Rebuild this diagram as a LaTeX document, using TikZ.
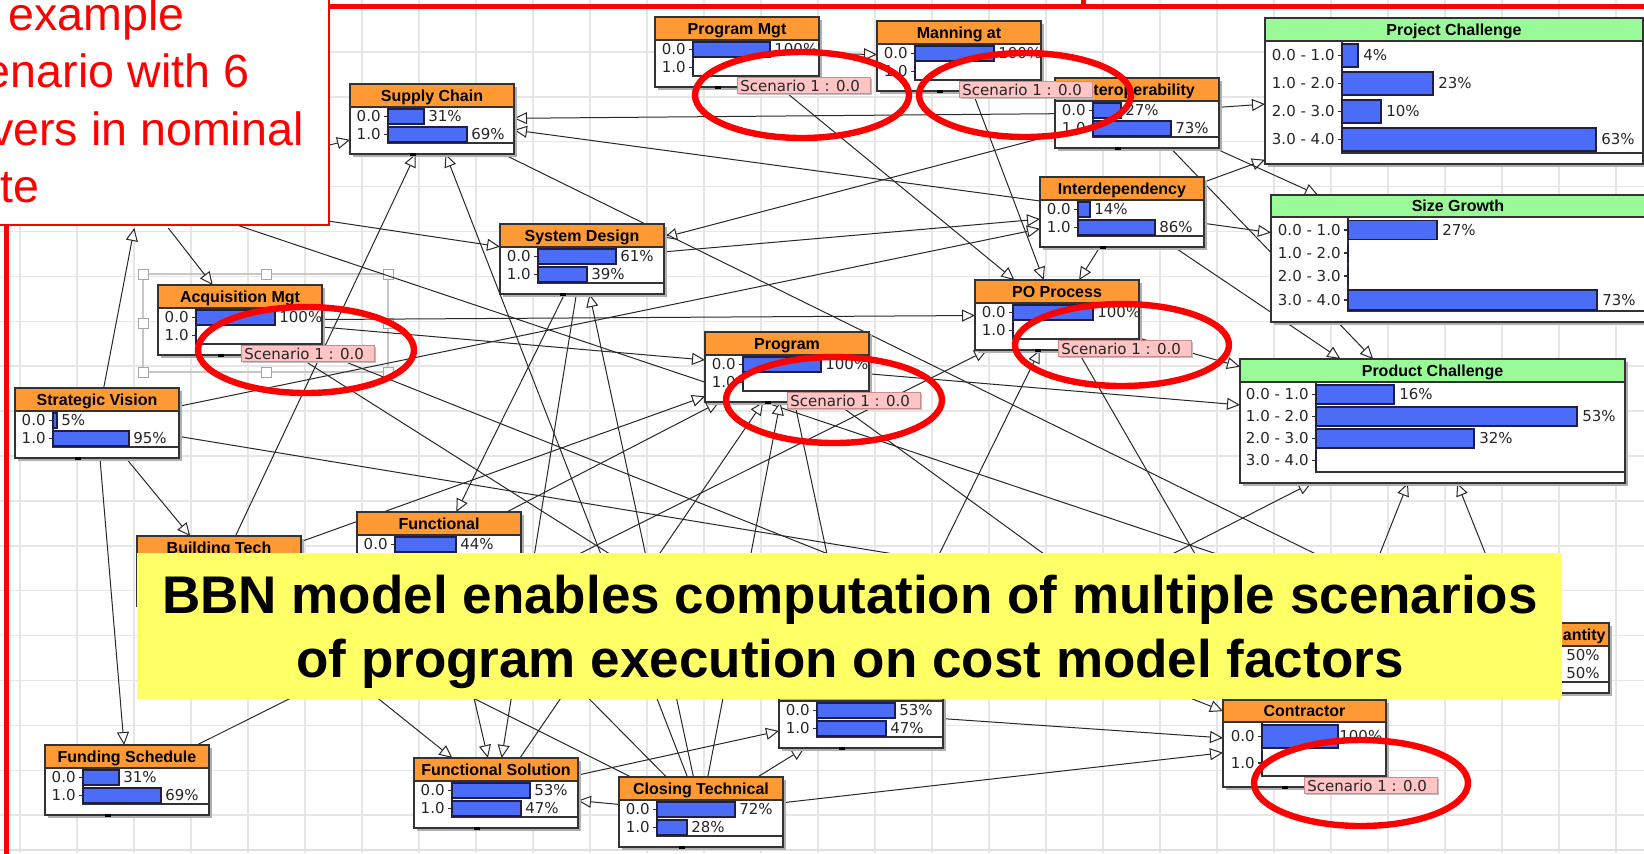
\documentclass[tikz,border=0pt]{standalone}
\usepackage{fontspec}
\setmainfont{Liberation Sans}
\newfontfamily\dv{DejaVu Sans}
\usetikzlibrary{arrows.meta}
\definecolor{orangeT}{RGB}{255,153,51}
\definecolor{greenT}{RGB}{152,251,152}
\definecolor{barblue}{RGB}{74,108,247}
\definecolor{bardark}{RGB}{30,30,70}
\definecolor{gridc}{RGB}{230,230,230}
\definecolor{edgec}{RGB}{40,40,40}
\definecolor{pinkL}{RGB}{255,196,196}
\definecolor{pinkB}{RGB}{200,140,140}
\definecolor{yel}{RGB}{255,255,102}
\definecolor{shadowc}{RGB}{175,175,175}
\tikzset{
 hid/.style={draw=none, inner sep=0, outer sep=0, minimum width=82pt, minimum height=35pt, anchor=north west},
 boxline/.style={draw=black!80, line width=0.75pt},
 axisline/.style={draw=black!80, line width=0.6pt},
 edge/.style={draw=edgec, line width=0.5pt, -{Triangle[length=6.5pt,width=6pt,fill=white]}},
 ttl/.style={font=\bfseries\fontsize{8}{9}\selectfont, inner sep=0},
 val/.style={font=\dv\fontsize{7.5}{9}\selectfont, inner sep=0, text=black!85},
 bar/.style={fill=barblue, draw=bardark, line width=0.6pt},
 scen/.style={fill=pinkL, draw=pinkB, line width=0.5pt},
 ring/.style={draw=red, line width=3.2pt},
 redtext/.style={anchor=base west, text=red, font=\fontsize{23.3}{28}\selectfont, inner sep=0},
 banner/.style={anchor=base, font=\bfseries\fontsize{26.5}{32}\selectfont, inner sep=0},
}
% frame of an orange two-state node: left, top, title, name
\newcommand{\bframe}[4]{%
 \fill[shadowc] (#1+3,#2+3) rectangle (#1+167,#2+73);
 \fill[white] (#1,#2) rectangle (#1+164,#2+70);
 \fill[orangeT] (#1,#2) rectangle (#1+164,#2+23);
 \node[ttl, anchor=base] (#4-t) at (#1+82,#2+17) {#3};
}
\newcommand{\bclose}[2]{%
 \draw[boxline] (#1,#2+23) -- (#1+164,#2+23);
 \draw[boxline] (#1,#2) rectangle (#1+164,#2+70);
 \fill[black] (#1+60,#2+69) rectangle (#1+66,#2+72);
}
% two-state orange node: name, left, top, title, len1, pct1, len2, pct2
\newcommand{\bn}[8]{%
 \bframe{#2}{#3}{#4}{#1}
 \draw[axisline] (#2+38,#3+23) -- (#2+38,#3+59) -- (#2+164,#3+59);
 \draw[axisline] (#2+34,#3+32.5) -- (#2+38,#3+32.5) (#2+34,#3+50.5) -- (#2+38,#3+50.5);
 \node[val, anchor=east] (#1-a) at (#2+31,#3+32.5) {0.0};
 \node[val, anchor=east] (#1-b) at (#2+31,#3+50.5) {1.0};
 \path[bar] (#2+38,#3+25) rectangle (#2+38+#5,#3+40);
 \path[bar] (#2+38,#3+43) rectangle (#2+38+#7,#3+58);
 \node[val, anchor=west] (#1-p) at (#2+42+#5,#3+32.5) {#6};
 \node[val, anchor=west] (#1-q) at (#2+42+#7,#3+50.5) {#8};
 \bclose{#2}{#3}
}
% row of a multi-state node: bar-left, centre y, half height, label, length, pct, name
\newcommand{\mrow}[7]{%
 \draw[axisline] (#1-4,#2) -- (#1,#2);
 \node[val, anchor=east] (#7-l) at (#1-7,#2) {#4};
 \path[bar] (#1,#2-#3) rectangle (#1+#5,#2+#3);
 \node[val, anchor=west] (#7-v) at (#1+#5+5,#2) {#6};
}
% scenario label: name, left, top
\newcommand{\scn}[3]{%
 \fill[black!25] (#2+2,#3+2) rectangle (#2+135,#3+18);
 \path[scen] (#2,#3) rectangle (#2+133,#3+16);
 \node[val, anchor=west] (#1) at (#2+3,#3+8.5) {Scenario 1 : 0.0};
}
\begin{document}
\begin{tikzpicture}[x=0.5pt,y=-0.5pt]
\useasboundingbox (0,0) rectangle (1644,853);
\clip (0,0) rectangle (1644,853);
\fill[white] (0,0) rectangle (1644,853);
% grid
\foreach \i in {0,...,28} \draw[gridc, line width=0.75pt] (20+57*\i,0) -- (20+57*\i,853);
\foreach \j in {0,...,19} \draw[gridc, line width=0.75pt] (0,7+44.9*\j) -- (1644,7+44.9*\j);
\draw[black!12, line width=1pt] (0,850) -- (1644,850);
% selection frame around Acquisition Mgt
\draw[black!22, line width=0.6pt] (143,274) rectangle (388,372);
\foreach \hx in {143,266,388} \foreach \hy in {274,323,372}
  {\filldraw[fill=white, draw=black!35, line width=0.5pt] (\hx-5,\hy-5) rectangle (\hx+5,\hy+5);}
% node shapes used by the connectors
\node[hid] (h) at (59,158) {};
\node[hid] (sc) at (350,84) {};
\node[hid] (pm) at (655,17) {};
\node[hid] (ma) at (877,21) {};
\node[hid] (io) at (1055,78) {};
\node[hid] (id) at (1040,177) {};
\node[hid] (sd) at (500,224) {};
\node[hid] (am) at (158,285) {};
\node[hid] (po) at (975,280) {};
\node[hid] (pr) at (705,332) {};
\node[hid] (sv) at (15,388) {};
\node[hid] (bt) at (137,536) {};
\node[hid] (fu) at (357,512) {};
\node[hid] (qu) at (1445,623) {};
\node[hid] (xx) at (779,678) {};
\node[hid] (fs) at (45,745) {};
\node[hid] (fsol) at (414,758) {};
\node[hid] (ct) at (619,777) {};
\node[hid, minimum width=81.5pt, minimum height=43.5pt] (co) at (1223,700) {};
\node[hid, minimum width=189pt, minimum height=73pt] (pj) at (1265,18) {};
\node[hid, minimum width=187pt, minimum height=63.5pt] (sg) at (1271,195) {};
\node[hid, minimum width=192.5pt, minimum height=62pt] (pc) at (1240,359) {};
% connectors
\draw[edge] (pm) -- (ma);
\draw[edge] (pm) -- (po);
\draw[edge] (ma) -- (po);
\draw[edge] (id) -- (po);
\draw[edge] (io) -- (sc);
\draw[edge] (id) -- (sc);
\draw[edge] (io) -- (pj);
\draw[edge] (id) -- (pj);
\draw[edge] (io) -- (sg);
\draw[edge] (io) -- (pc);
\draw[edge] (id) -- (pc);
\draw[edge] (id) -- (sg);
\draw[edge] (sd) -- (id);
\draw[edge] (io) -- (sd);
\draw[edge] (sv) -- (id);
\draw[edge] (sc) -- (qu);
\draw[edge] (h) -- (sc);
\draw[edge] (h) -- (am);
\draw[edge] (h) -- (sd);
\draw[edge] (sv) -- (h);
\draw[edge] (h) -- (qu);
\draw[edge] (sv) -- (fs);
\draw[edge] (sv) -- (bt);
\draw[edge] (bt) -- (sc);
\draw[edge] (ct) -- (sc);
\draw[edge] (am) -- (po);
\draw[edge] (am) -- (pr);
\draw[edge] (am) -- (xx);
\draw[edge] (am) -- (co);
\draw[edge] (sv) -- (qu);
\draw[edge] (bt) -- (pr);
\draw[edge] (fu) -- (pr);
\draw[edge] (fsol) -- (pr);
\draw[edge] (ct) -- (pr);
\draw[edge] (pr) -- (xx);
\draw[edge] (pr) -- (co);
\draw[edge] (pr) -- (pc);
\draw[edge] (po) -- (pc);
\draw[edge] (ct) -- (sd);
\draw[edge] (sd) -- (fu);
\draw[edge] (sd) -- (fsol);
\draw[edge] (bt) -- (fsol);
\draw[edge] (fu) -- (fsol);
\draw[edge] (fs) -- (po);
\draw[edge] (xx) -- (po);
\draw[edge] (po) -- (co);
\draw[edge] (xx) -- (pc);
\draw[edge] (co) -- (pc);
\draw[edge] (qu) -- (pc);
\draw[edge] (ct) -- (fsol);
\draw[edge] (fsol) -- (xx);
\draw[edge] (ct) -- (xx);
\draw[edge] (ct) -- (co);
\draw[edge] (xx) -- (co);
\draw[edge] (ct) -- (fu);
\draw[edge] (ct) -- (bt);
% orange two-state nodes
\bn{scB}{350}{84}{Supply Chain}{36}{31\%}{79}{69\%}
\bn{pmB}{655}{17}{Program Mgt}{77}{100\%}{0}{}
\bn{maB}{877}{21}{Manning at}{79}{100\%}{0}{}
\bn{ioB}{1055}{78}{Interoperability}{28}{27\%}{78}{73\%}
\bn{idB}{1040}{177}{Interdependency}{12}{14\%}{77}{86\%}
\bn{sdB}{500}{224}{System Design}{78}{61\%}{49}{39\%}
\bn{amB}{158}{285}{Acquisition Mgt}{79}{100\%}{0}{}
\bn{poB}{975}{280}{PO Process}{80}{100\%}{0}{}
\bn{prB}{705}{332}{Program}{78}{100\%}{0}{}
\bn{svB}{15}{388}{Strategic Vision}{4}{5\%}{76}{95\%}
% Building Tech (body hidden by the banner)
\bframe{137}{536}{Building Tech}{btB}
\bclose{137}{536}
% Functional (second row hidden by the banner)
\bframe{357}{512}{Functional}{fuB}
\draw[axisline] (395,535) -- (395,571) -- (521,571);
\draw[axisline] (391,544.5) -- (395,544.5);
\node[val, anchor=east] (fuB-a) at (388,544.5) {0.0};
\path[bar] (395,537) rectangle (456,552);
\node[val, anchor=west] (fuB-p) at (460,544.5) {44\%};
\bclose{357}{512}
% Quantity (left part hidden by the banner)
\bframe{1445}{623}{}{quB}
\draw[axisline] (1483,646) -- (1483,682) -- (1609,682);
\path[bar] (1483,648) rectangle (1561,663);
\path[bar] (1483,666) rectangle (1561,681);
\node[val, anchor=west] (quB-p) at (1566,655.5) {50\%};
\node[val, anchor=west] (quB-q) at (1566,673.5) {50\%};
\node[ttl, anchor=base east] (qu-title) at (1606,640) {Quantity};
\bclose{1445}{623}
\bn{xxB}{779}{678}{}{78}{53\%}{69}{47\%}
\bn{fsB}{45}{745}{Funding Schedule}{36}{31\%}{78}{69\%}
\bn{fsolB}{414}{758}{Functional Solution}{78}{53\%}{69}{47\%}
\bn{ctB}{619}{777}{Closing Technical}{78}{72\%}{30}{28\%}
% Contractor
\fill[shadowc] (1226,703) rectangle (1389,790);
\fill[white] (1223,700) rectangle (1386,787);
\fill[orangeT] (1223,700) rectangle (1386,722);
\node[ttl, anchor=base] (co-t) at (1304.5,716.5) {Contractor};
\draw[axisline] (1262,722) -- (1262,776) -- (1386,776);
\mrow{1262}{736.5}{11.5}{0.0}{76}{}{co1}
\mrow{1262}{763}{11.5}{1.0}{0}{}{co2}
\node[val, anchor=west] (co-p) at (1339,736.5) {100\%};
\draw[boxline] (1223,722) -- (1386,722);
\draw[boxline] (1223,700) rectangle (1386,787);
\fill[black] (1282,786) rectangle (1288,789);
% Project Challenge
\fill[shadowc] (1268,21) rectangle (1646,167);
\fill[white] (1265,18) rectangle (1643,164);
\fill[greenT] (1265,18) rectangle (1643,41);
\node[ttl, anchor=base] (pj-t) at (1454,35) {Project Challenge};
\draw[axisline] (1342,41) -- (1342,153) -- (1643,153);
\mrow{1342}{55.5}{11.5}{0.0 - 1.0}{16}{4\%}{pj1}
\mrow{1342}{83.5}{11.5}{1.0 - 2.0}{91}{23\%}{pj2}
\mrow{1342}{111.5}{11.5}{2.0 - 3.0}{39}{10\%}{pj3}
\mrow{1342}{139.5}{11.5}{3.0 - 4.0}{254}{63\%}{pj4}
\draw[boxline] (1265,41) -- (1643,41);
\draw[boxline] (1265,18) rectangle (1643,164);
% Size Growth
\fill[shadowc] (1274,198) rectangle (1648,325);
\fill[white] (1271,195) rectangle (1645,322);
\fill[greenT] (1271,195) rectangle (1645,217);
\node[ttl, anchor=base] (sg-t) at (1458,211.5) {Size Growth};
\draw[axisline] (1348,217) -- (1348,311) -- (1645,311);
\mrow{1348}{230}{9.5}{0.0 - 1.0}{89}{27\%}{sg1}
\mrow{1348}{253}{9.5}{1.0 - 2.0}{0}{}{sg2}
\mrow{1348}{276}{9.5}{2.0 - 3.0}{0}{}{sg3}
\mrow{1348}{300}{10}{3.0 - 4.0}{249}{73\%}{sg4}
\draw[boxline] (1271,217) -- (1645,217);
\draw[boxline] (1271,195) rectangle (1645,322);
% Product Challenge
\fill[shadowc] (1243,362) rectangle (1628,486);
\fill[white] (1240,359) rectangle (1625,483);
\fill[greenT] (1240,359) rectangle (1625,382);
\node[ttl, anchor=base] (pc-t) at (1432.5,376) {Product Challenge};
\draw[axisline] (1316,382) -- (1316,472) -- (1625,472);
\mrow{1316}{394.5}{9.5}{0.0 - 1.0}{78}{16\%}{pc1}
\mrow{1316}{416.5}{9.5}{1.0 - 2.0}{261}{53\%}{pc2}
\mrow{1316}{438.5}{9.5}{2.0 - 3.0}{158}{32\%}{pc3}
\mrow{1316}{460.5}{9.5}{3.0 - 4.0}{0}{}{pc4}
\draw[boxline] (1240,382) -- (1625,382);
\draw[boxline] (1240,359) rectangle (1625,483);
% scenario labels
\scn{s1}{737}{77}
\scn{s2}{959}{81}
\scn{s3}{241}{345}
\scn{s4}{787}{392}
\scn{s5}{1058}{340}
\scn{s6}{1304}{777}
% red rings
\draw[ring] (802,95) ellipse [x radius=53.5pt, y radius=21.5pt];
\draw[ring] (1025,95) ellipse [x radius=53pt, y radius=21pt];
\draw[ring] (306,350) ellipse [x radius=54pt, y radius=21.5pt];
\draw[ring] (834,400) ellipse [x radius=54pt, y radius=21.5pt];
\draw[ring] (1122,345) ellipse [x radius=53.5pt, y radius=20.5pt];
\draw[ring] (1361,783) ellipse [x radius=53.5pt, y radius=21.5pt];
% yellow banner
\fill[yel] (137,553) rectangle (1562,699);
\node[banner] (y1) at (850,613) {BBN model enables computation of multiple scenarios};
\node[banner] (y2) at (850,677) {of program execution on cost model factors};
% red callout
\filldraw[fill=white, draw=red, line width=1pt] (-20,-20) rectangle (329,225);
\node[redtext] (r1) at (-62,30) {An example};
\node[redtext] (r2) at (-62,87) {scenario with 6};
\node[redtext] (r3) at (-62,145) {drivers in nominal};
\node[redtext] (r4) at (-62,202) {state};
% red frame lines
\draw[red, line width=2.5pt] (329,6) -- (1660,6);
\draw[red, line width=2.5pt] (1083,-5) -- (1083,6);
\draw[red, line width=2.5pt] (6,225) -- (6,870);
\end{tikzpicture}
\end{document}
